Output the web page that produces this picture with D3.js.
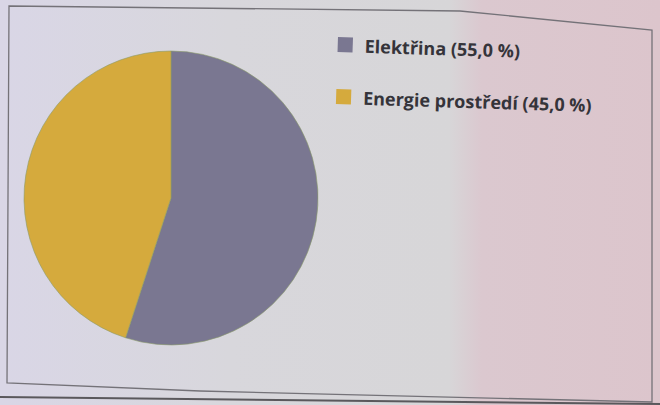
<!DOCTYPE html>
<html lang="cs">
<head>
<meta charset="utf-8">
<script src="https://d3js.org/d3.v7.min.js"></script>
<style>
  body { margin: 0; background: #dcdcdc; }
  .legend text { font: bold 18px "Open Sans", sans-serif; fill: #35343a; }
</style>
</head>
<body>
<svg width="660" height="405"></svg>
<script>
var labels = ["Elektřina", "Energie prostředí"];
var values = [55.0, 45.0];
var colors = ["#7a7791", "#d5aa3d"];

var svg = d3.select("svg");

// paper background with the photo's colour cast
var defs = svg.append("defs");
var grad = defs.append("linearGradient").attr("id", "bg").attr("x1", 0).attr("x2", 1).attr("y1", 0).attr("y2", 0);
grad.append("stop").attr("offset", 0).attr("stop-color", "#d9d6e6");
grad.append("stop").attr("offset", 0.35).attr("stop-color", "#d8d7dc");
grad.append("stop").attr("offset", 0.68).attr("stop-color", "#d7d6d8");
grad.append("stop").attr("offset", 0.73).attr("stop-color", "#dbc8cf");
grad.append("stop").attr("offset", 1).attr("stop-color", "#dcc5cc");

svg.append("rect").attr("width", 660).attr("height", 405).attr("fill", "url(#bg)");

// chart frame (slightly skewed like the photo)
svg.append("path")
  .attr("d", "M9,6 L460,11 L652,30 L652,402 L200,391 L7,383 Z")
  .attr("fill", "none")
  .attr("stroke", "#747278")
  .attr("stroke-width", 1.3);
svg.append("path")
  .attr("d", "M0,397 L660,404")
  .attr("stroke", "#5a585c")
  .attr("stroke-width", 2);

var radius = 147;
var pie = d3.pie().sort(null).value(function(d) { return d; });
var arc = d3.arc().innerRadius(0).outerRadius(radius);

var g = svg.append("g").attr("transform", "translate(171,198)");
g.selectAll("path")
  .data(pie(values))
  .enter().append("path")
  .attr("d", arc)
  .attr("fill", function(d, i) { return colors[i]; })
  .attr("stroke", "#8a9a6a")
  .attr("stroke-width", 0.6);

var legend = svg.append("g")
  .attr("class", "legend")
  .attr("transform", "translate(338,37) rotate(1.8)");

var item = legend.selectAll("g")
  .data(labels)
  .enter().append("g")
  .attr("transform", function(d, i) { return "translate(0," + (i * 52) + ")"; });

item.append("rect")
  .attr("width", 15)
  .attr("height", 15)
  .attr("fill", function(d, i) { return colors[i]; });

item.append("text")
  .attr("x", 27)
  .attr("y", 15)
  .text(function(d, i) { return d + " (" + d3.format(".1f")(values[i]).replace(".", ",") + " %)"; });
</script>
</body>
</html>
